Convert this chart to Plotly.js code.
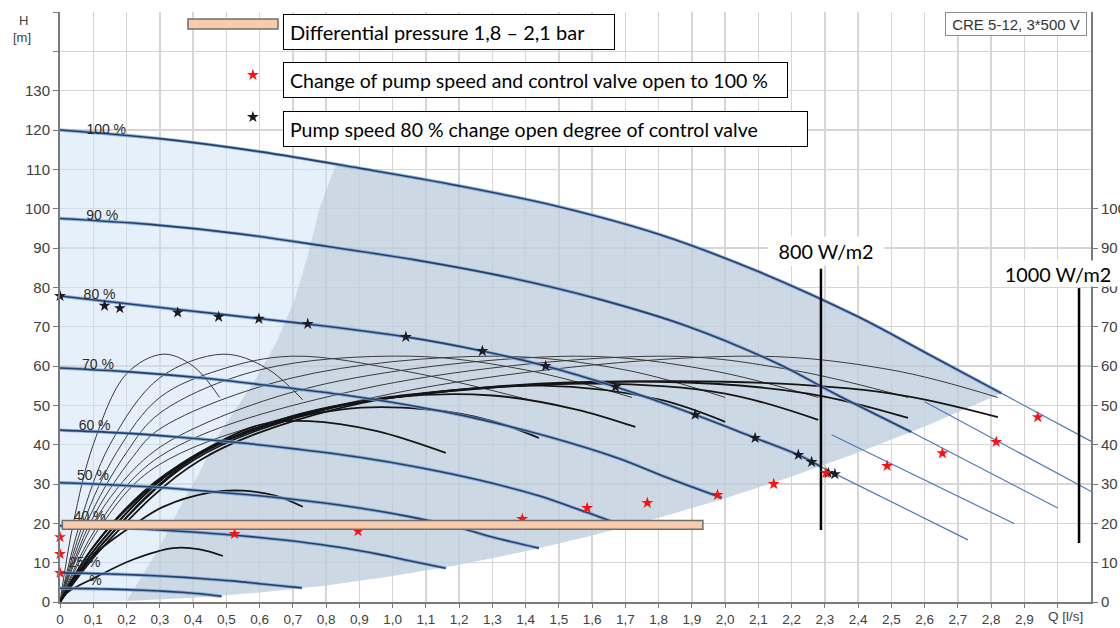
<!DOCTYPE html>
<html><head><meta charset="utf-8">
<script src="https://cdn.plot.ly/plotly-3.0.1.min.js"></script>
<style>html,body{margin:0;padding:0;background:#fff}#chart{width:1120px;height:628px}</style>
</head><body><div id="chart"></div>
<script>
// ---------- axis ticks ----------
const qTicks = [0,0.1,0.2,0.3,0.4,0.5,0.6,0.7,0.8,0.9,1.0,1.1,1.2,1.3,1.4,1.5,1.6,1.7,1.8,1.9,2.0,2.1,2.2,2.3,2.4,2.5,2.6,2.7,2.8,2.9,3.0];
const qTickText = ["0","0,1","0,2","0,3","0,4","0,5","0,6","0,7","0,8","0,9","1,0","1,1","1,2","1,3","1,4","1,5","1,6","1,7","1,8","1,9","2,0","2,1","2,2","2,3","2,4","2,5","2,6","2,7","2,8","2,9",""];
const hTicks = [0,10,20,30,40,50,60,70,80,90,100,110,120,130,140,150];
const hTickText = ["0","10","20","30","40","50","60","70","80","90","100","110","120","130","",""];
const h2Ticks = [0,10,20,30,40,50,60,70,80,90,100];
const h2TickText = ["0","10","20","30","40","50","60","70","80","90","100"];

// ---------- pump speed curves (Q [l/s], H [m]) ----------
const q100 = [0,0.3,0.6,0.9,1.2,1.5,1.8,2.1,2.4,2.6,2.83];
const h100 = [120,117.8,114.5,110.3,105.8,100.5,93.5,84,72.5,63.5,53.1];
const q90 = [0,0.27,0.54,0.81,1.08,1.35,1.62,1.89,2.16,2.34,2.56];
const h90 = [97.5,96,93.6,90.3,86.8,82.5,77,70,60.5,52.5,43.2];
const q80 = [0,0.36,0.72,1.04,1.27,1.46,1.67,1.91,2.09,2.22,2.29];
const h80 = [77.8,74.3,70.9,67.4,63.8,60.0,54.7,47.6,41.7,37.4,34.3];
const q70 = [0,0.21,0.42,0.63,0.84,1.05,1.26,1.47,1.68,1.82,1.99];
const h70 = [59.5,58.5,57,55,52.8,50,46.5,42,36.5,31.8,26.5];
const q60 = [0,0.18,0.36,0.54,0.72,0.9,1.08,1.26,1.44,1.56,1.70];
const h60 = [43.7,43,41.9,40.5,38.8,36.8,34.2,31,27,23.5,19.2];
const q50 = [0,0.15,0.3,0.45,0.6,0.75,0.9,1.05,1.2,1.3,1.44];
const h50 = [30.3,29.8,29.1,28.1,27,25.6,23.9,21.7,18.9,16.5,13.7];
const q40 = [0,0.12,0.24,0.36,0.48,0.6,0.72,0.84,0.96,1.05,1.16];
const h40 = [19.4,19.1,18.6,18,17.3,16.4,15.3,13.9,12.1,10.5,8.6];
const q25 = [0,0.075,0.15,0.225,0.3,0.375,0.45,0.525,0.6,0.66,0.727];
const h25 = [7.4,7.3,7.1,6.9,6.6,6.25,5.8,5.3,4.65,4.15,3.6];
const qMin = [0,0.05,0.1,0.15,0.2,0.25,0.3,0.35,0.4,0.44,0.486];
const hMin = [3.5,3.45,3.37,3.27,3.14,2.98,2.78,2.54,2.22,1.9,1.45];

// speed labels
const speedLabels = ["100 %","90 %","80 %","70 %","60 %","50 %","40 %","25 %","%"];
const speedLabelQ = [0.139,0.127,0.119,0.114,0.104,0.099,0.089,0.074,0.107];
const speedLabelH = [120.0,97.9,77.8,60.1,44.6,31.8,21.6,9.7,5.1];

// ---------- operating range shading ----------
const lowerQ = [0,0.2,0.4,0.6,0.8,1.0,1.2,1.4,1.6,1.8,2.0,2.2,2.4,2.6,2.83];
const lowerH = [0,0.3,1.05,2.4,4.2,6.6,9.5,12.9,16.9,21.4,26.4,31.9,38,44.6,53.1];
const darkEdgeQ = [0.83,0.78,0.745,0.706,0.65,0.586,0.52,0.465,0.42,0.36,0.30,0.24,0.2];
const darkEdgeH = [111.3,100,88,77,66,56.4,48,41,33,24,14,5.6,0.28];

// ---------- black system / arc curves ----------
const thinArcQ = [
  [0,0.04,0.1,0.2,0.31,0.4,0.48],
  [0,0.06,0.15,0.3,0.49,0.62,0.73],
  [0,0.07,0.17,0.3,0.48,0.7,1.05,1.41],
  [0,0.08,0.2,0.3,0.6,1.05,1.4,1.72],
  [0,0.09,0.22,0.3,0.7,1.3,1.7,2.0],
  [0,0.1,0.25,0.4,0.8,1.55,1.95,2.28],
  [0,0.11,0.3,0.9,1.8,2.2,2.55],
  [0,0.12,0.3,1.0,2.05,2.5,2.82]
];
const thinArcH = [
  [0,20,40,58,63,60,52],
  [0,20,40,57,63,59.5,51.4],
  [0,20,38,52,59,62.5,58.5,51.4],
  [0,20,38,48,59,62.5,59,52],
  [0,20,37,44,57,62.5,59,52],
  [0,20,36,44,55.5,62.5,59,52],
  [0,19,37,54,62.5,59,52],
  [0,19,35,53,62.5,59,52]
];
const boldArcQ = [
  [0,0.1,0.25,0.4,0.6,0.75,0.95,1.16],
  [0,0.1,0.3,0.55,0.85,1.1,1.3,1.44],
  [0,0.12,0.35,0.65,1.0,1.3,1.55,1.73],
  [0,0.12,0.38,0.7,1.0,1.45,1.8,2.0],
  [0,0.13,0.4,0.75,1.1,1.6,2.0,2.28],
  [0,0.13,0.4,0.8,1.2,1.8,2.25,2.55],
  [0,0.14,0.42,0.85,1.3,2.0,2.5,2.82],
  [0,0.05,0.13,0.22,0.31,0.45,0.55,0.65,0.73],
  [0,0.02,0.11,0.22,0.34,0.42,0.49]
];
const boldArcH = [
  [0,14,28,37,45,46,43.5,37.9],
  [0,14,31,43,49,49,46,41.7],
  [0,15,34,46,52,52.5,49,44.5],
  [0,15,36,47,52,55,51.5,45.8],
  [0,15,36.5,48,53,55.5,53,46.3],
  [0,15,36,49,54,56,53,46.8],
  [0,15,36,49.5,54.5,56,53,47],
  [0,7,14,19.5,24.2,27.8,28.3,27,24.2],
  [0,2.3,6.4,10.8,13.7,13.4,11.7]
];

// ---------- extension lines beyond curve ends ----------
const extQ = [[2.83,3.15],[2.6,3.12],[2.56,3.0],[2.32,2.87],[2.29,2.73]];
const extH = [[53.1,38.6],[50.9,27.2],[43.2,23.9],[42.5,19.9],[34.3,15.8]];

// ---------- measured points ----------
const redStarQ = [0,0,0,0.525,0.896,1.39,1.585,1.766,1.977,2.146,2.303,2.487,2.653,2.815,2.94];
const redStarH = [16.5,12.2,7.4,17.3,18.0,21.1,23.9,25.2,27.2,30.0,32.8,34.6,37.8,40.7,47.0];
const blackStarQ = [0,0.134,0.18,0.354,0.477,0.598,0.745,1.04,1.27,1.46,1.67,1.91,2.09,2.22,2.26,2.31,2.33];
const blackStarH = [77.8,75.3,74.7,73.6,72.5,72.0,70.7,67.4,63.8,60.0,54.7,47.6,41.7,37.4,35.6,32.8,32.5];

// differential pressure band 1,8 - 2,1 bar
const bandQ = [0.007,1.933];
const bandH = [18.5,20.7];

// irradiance lines
const w800Q = [2.288,2.288];
const w800H = [18.3,84.7];
const w1000Q = [3.064,3.064];
const w1000H = [15.0,79.8];

// legend markers
const legendRedQ = [0.58], legendRedH = [134.0];
const legendBlackQ = [0.58], legendBlackH = [123.3];

// ---------- build traces ----------
const traces = [];
traces.push({x: q100.concat(lowerQ.slice().reverse()), y: h100.concat(lowerH.slice().reverse()),
  mode:'lines', fill:'toself', fillcolor:'rgba(205,225,246,0.5)', line:{width:0}, hoverinfo:'skip'});
const lowQ2 = [], lowH2 = [];
lowerQ.forEach((q,i)=>{ if(q>0.2){ lowQ2.push(q); lowH2.push(lowerH[i]); } });
const topQ2 = [], topH2 = [];
for(let i=q100.length-1;i>=0;i--){ if(q100[i]>0.83 && q100[i]<2.83){ topQ2.push(q100[i]); topH2.push(h100[i]); } }
traces.push({x: darkEdgeQ.concat(lowQ2, topQ2), y: darkEdgeH.concat(lowH2, topH2),
  mode:'lines', fill:'toself', fillcolor:'rgba(182,198,212,0.55)', line:{width:0}, hoverinfo:'skip'});

thinArcQ.forEach((q,i)=>traces.push({x:q, y:thinArcH[i], mode:'lines', line:{color:'#3a3a3a', width:1, shape:'spline', smoothing:1}, hoverinfo:'skip'}));
boldArcQ.forEach((q,i)=>traces.push({x:q, y:boldArcH[i], mode:'lines', line:{color:'#151515', width:1.8, shape:'spline', smoothing:1}, hoverinfo:'skip'}));

const speedQ = [q100,q90,q80,q70,q60,q50,q40,q25,qMin];
const speedH = [h100,h90,h80,h70,h60,h50,h40,h25,hMin];
speedQ.forEach((q,i)=>{
  traces.push({x:q, y:speedH[i], mode:'lines', line:{color:'rgba(120,160,210,0.8)', width:3.4, shape:'spline'}, hoverinfo:'skip'});
  traces.push({x:q, y:speedH[i], mode:'lines', line:{color:'#26406a', width:1.6, shape:'spline'}, hoverinfo:'skip'});
});
extQ.forEach((q,i)=>traces.push({x:q, y:extH[i], mode:'lines', line:{color:'#4f78ba', width:1.2}, hoverinfo:'skip'}));

traces.push({x:w800Q, y:w800H, mode:'lines', line:{color:'#000', width:2.5}, hoverinfo:'skip'});
traces.push({x:w1000Q, y:w1000H, mode:'lines', line:{color:'#000', width:2.5}, yaxis:'y2', hoverinfo:'skip'});

traces.push({x:blackStarQ, y:blackStarH, mode:'markers', marker:{symbol:'star', size:9, color:'#1b1b24'}, cliponaxis:false, hoverinfo:'skip'});
traces.push({x:redStarQ, y:redStarH, mode:'markers', marker:{symbol:'star', size:9, color:'#ff1010'}, cliponaxis:false, hoverinfo:'skip'});
traces.push({x:legendRedQ, y:legendRedH, mode:'markers', marker:{symbol:'star', size:9, color:'#ff1010'}, cliponaxis:false, hoverinfo:'skip'});
traces.push({x:legendBlackQ, y:legendBlackH, mode:'markers', marker:{symbol:'star', size:9, color:'#1b1b24'}, cliponaxis:false, hoverinfo:'skip'});

traces.push({x:speedLabelQ, y:speedLabelH, mode:'text', text:speedLabels, textposition:'middle center',
  textfont:{family:'Liberation Sans, Arial, sans-serif', size:14, color:'#2a2a2a'}, cliponaxis:false, hoverinfo:'skip'});

const W = 1031, H = 590, L = 60, T = 12;
const px = v => (v - L) / W;
const py = v => (T + H - v) / H;

const calibri = 'Lato, Carlito, Calibri, sans-serif';
const tickFamily = 'Liberation Sans, Arial, sans-serif';
const layout = {
  width:1120, height:628,
  margin:{l:60, r:29, t:12, b:26, pad:0},
  paper_bgcolor:'#fff', plot_bgcolor:'#fff',
  showlegend:false,
  xaxis:{range:[0,3.1], tickvals:qTicks, ticktext:qTickText, showgrid:true, gridcolor:'#d6d6d6', gridwidth:1.5,
    showline:true, linecolor:'#7a7a7a', linewidth:2, ticks:'outside', ticklen:4, tickcolor:'#7a7a7a', zeroline:false,
    tickfont:{family:tickFamily, size:13.5, color:'#404040'}},
  yaxis:{range:[0,150], tickvals:hTicks, ticktext:hTickText, showgrid:true, gridcolor:'#d6d6d6', gridwidth:1.5,
    showline:true, linecolor:'#7a7a7a', linewidth:2, ticks:'outside', ticklen:5, tickcolor:'#7a7a7a', zeroline:false,
    tickfont:{family:tickFamily, size:15, color:'#404040'}},
  yaxis2:{range:[0,150], overlaying:'y', side:'right', tickvals:h2Ticks, ticktext:h2TickText, showgrid:false,
    showline:true, linecolor:'#7a7a7a', linewidth:2, ticks:'outside', ticklen:5, tickcolor:'#7a7a7a', zeroline:false,
    tickfont:{family:tickFamily, size:15, color:'#404040'}},
  shapes:[
    {type:'rect', xref:'x', yref:'y', x0:bandQ[0], x1:bandQ[1], y0:bandH[0], y1:bandH[1], fillcolor:'#f8cbad', line:{color:'#6e6e6e', width:1.5}, layer:'above'},
    {type:'rect', xref:'paper', yref:'paper', x0:px(188), x1:px(278), y0:py(29), y1:py(19), fillcolor:'#f8cbad', line:{color:'#6e6e6e', width:1.5}, layer:'above'}
  ],
  annotations:[
    {xref:'paper', yref:'paper', x:px(283), y:py(14), xanchor:'left', yanchor:'top', text:'Differential pressure 1,8 – 2,1 bar',
      showarrow:false, align:'left', bgcolor:'#fff', bordercolor:'#000', borderwidth:1, borderpad:6, width:318, height:22,
      font:{family:calibri, size:20, color:'#000'}},
    {xref:'paper', yref:'paper', x:px(283), y:py(62), xanchor:'left', yanchor:'top', text:'Change of pump speed and control valve open to 100 %',
      showarrow:false, align:'left', bgcolor:'#fff', bordercolor:'#000', borderwidth:1, borderpad:6, width:491, height:22,
      font:{family:calibri, size:19.5, color:'#000'}},
    {xref:'paper', yref:'paper', x:px(283), y:py(111), xanchor:'left', yanchor:'top', text:'Pump speed 80 % change open degree of control valve',
      showarrow:false, align:'left', bgcolor:'#fff', bordercolor:'#000', borderwidth:1, borderpad:6, width:511, height:22,
      font:{family:calibri, size:19.5, color:'#000'}},
    {xref:'paper', yref:'paper', x:px(945), y:py(12), xanchor:'left', yanchor:'top', text:'CRE 5-12, 3*500 V',
      showarrow:false, align:'center', bgcolor:'#fff', bordercolor:'#8a8a8a', borderwidth:1, borderpad:3, width:134, height:16,
      font:{family:tickFamily, size:15, color:'#333'}},
    {xref:'paper', yref:'paper', x:px(826), y:py(251), xanchor:'center', yanchor:'middle', text:'800 W/m2',
      showarrow:false, bgcolor:'#fff', borderpad:0, width:116, height:28, font:{family:calibri, size:19.8, color:'#000'}},
    {xref:'paper', yref:'paper', x:px(1058), y:py(273), xanchor:'center', yanchor:'middle', text:'1000 W/m2',
      showarrow:false, bgcolor:'#fff', borderpad:0, width:118, height:25, font:{family:calibri, size:19.8, color:'#000'}},
    {xref:'paper', yref:'paper', x:px(23), y:py(20), xanchor:'center', yanchor:'middle', text:'H',
      showarrow:false, font:{family:tickFamily, size:13, color:'#404040'}},
    {xref:'paper', yref:'paper', x:px(22), y:py(38), xanchor:'center', yanchor:'middle', text:'[m]',
      showarrow:false, font:{family:tickFamily, size:13, color:'#404040'}},
    {xref:'paper', yref:'paper', x:px(1065), y:py(616), xanchor:'center', yanchor:'middle', text:'Q [l/s]',
      showarrow:false, font:{family:tickFamily, size:13.5, color:'#404040'}}
  ]
};
Plotly.newPlot('chart', traces, layout, {displayModeBar:false, staticPlot:true});
</script></body></html>
